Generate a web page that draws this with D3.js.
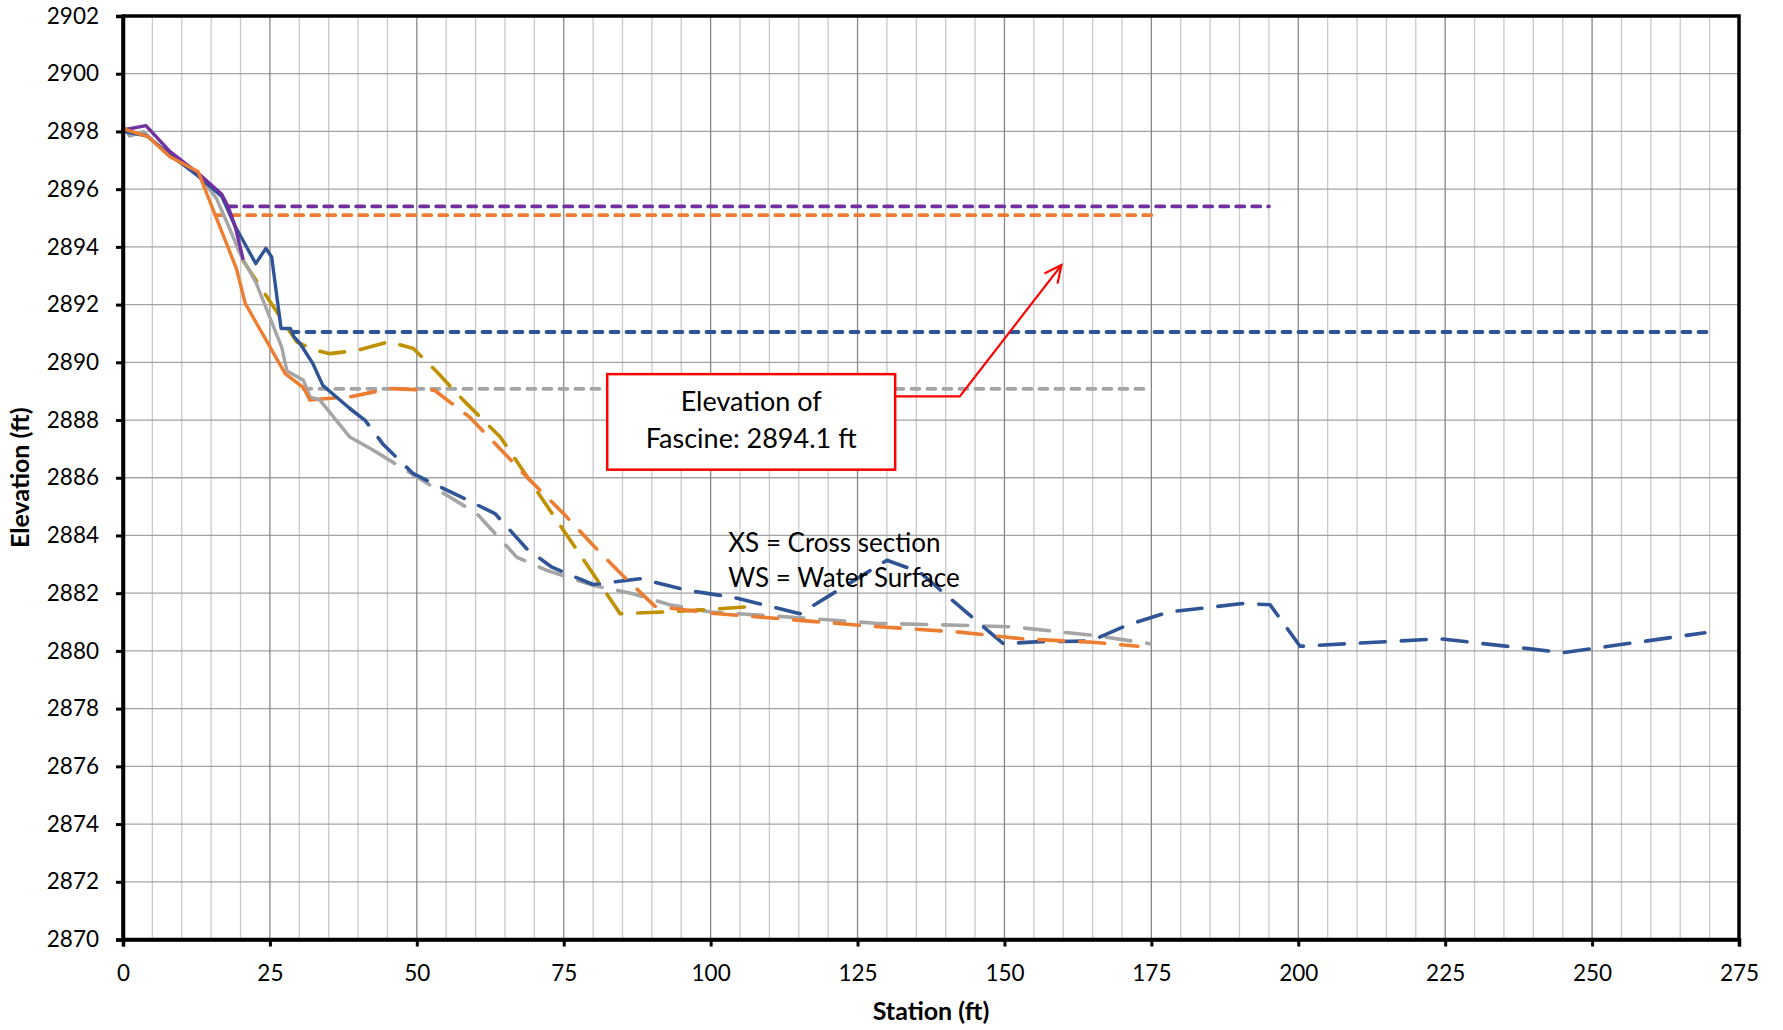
<!DOCTYPE html>
<html>
<head>
<meta charset="utf-8">
<script src="https://cdn.jsdelivr.net/npm/d3@7"></script>
<style>
  html, body { margin: 0; padding: 0; background: #fff; }
  svg { display: block; font-family: Lato, "Open Sans", sans-serif; }
</style>
</head>
<body>
<svg id="chart" width="1783" height="1030"></svg>
<script>
// ---------- data ----------
const xTicks = [0, 25, 50, 75, 100, 125, 150, 175, 200, 225, 250, 275];
const yTicks = [2870, 2872, 2874, 2876, 2878, 2880, 2882, 2884, 2886, 2888, 2890, 2892, 2894, 2896, 2898, 2900, 2902];
const xMinorTicks = d3.range(0, 276, 5);

// cross sections (station, elevation)
const purpleSolid = [[0,2898.05],[3.9,2898.2],[8,2897.3],[12.8,2896.55],[16.8,2895.82],[17.9,2895.39],[19.1,2894.7],[20.4,2893.6]];
const blueSolid = [[0,2898.0],[4,2897.85],[8,2897.2],[12.8,2896.45],[16.8,2895.75],[19.1,2894.7],[20.4,2894.23],[22.6,2893.42],[24.3,2893.95],[25.3,2893.65],[26.9,2891.17],[28.5,2891.17],[29.1,2890.88],[30.1,2890.66],[32.3,2889.96],[34.0,2889.2],[38.6,2888.4]];
const blueDashed = [[38.6,2888.4],[41.2,2887.99],[44.3,2887.15],[49.4,2886.14],[63.3,2884.76],[68.7,2883.54],[73,2882.9],[80,2882.3],[88,2882.5],[96,2882.1],[104,2881.85],[115.2,2881.29],[130,2883.14],[135.6,2882.73],[140,2881.95],[149.8,2880.25],[156,2880.32],[164.6,2880.34],[171,2880.9],[178,2881.35],[190.5,2881.64],[195.2,2881.6],[200.3,2880.16],[224.1,2880.42],[245.2,2879.94],[269.2,2880.63]];
const graySolid = [[0,2898.2],[1.1,2897.84],[3.5,2897.99],[7.4,2897.24],[12.8,2896.5],[15.9,2895.68],[17.9,2894.75],[19.9,2893.77],[22.7,2892.73],[27,2890.53],[27.9,2889.7],[30.7,2889.38],[31.8,2888.8],[33.5,2888.69],[38.6,2887.41],[42.6,2886.95]];
const grayDashed = [[42.6,2886.95],[49.1,2886.14],[55.6,2885.33],[60.2,2884.76],[67,2883.25],[72,2882.8],[80,2882.27],[86.8,2881.98],[93,2881.6],[100,2881.35],[115,2881.15],[128,2880.96],[143.6,2880.88],[151.5,2880.83],[165,2880.54],[174.8,2880.25]];
const orangeSolid = [[0,2898.1],[4.3,2897.81],[8,2897.12],[12.8,2896.6],[15.7,2895.1],[19.3,2893.25],[20.8,2892.04],[27.6,2889.61],[30.7,2889.12],[31.8,2888.7]];
const orangeDashed = [[31.8,2888.7],[38.6,2888.8],[45.4,2889.09],[53,2889.03],[59,2888.1],[64.2,2887.0],[68.7,2886.03],[75,2884.75],[80,2883.66],[85,2882.62],[90.5,2881.55],[100,2881.31],[127.7,2880.85],[142.4,2880.65],[153,2880.42],[165,2880.3],[172.7,2880.16]];
const goldDashed = [[20.4,2893.54],[23.2,2892.67],[27.3,2891.4],[29.6,2890.7],[32.7,2890.42],[35.2,2890.3],[40,2890.42],[45.2,2890.71],[49.4,2890.48],[53.4,2889.67],[57.9,2888.69],[64.2,2887.41],[84.6,2881.29],[92,2881.35],[99.6,2881.43],[107,2881.54]];

// water surfaces (start station, end station, elevation)
const wsPurple = [[17.9,2895.4],[195,2895.4]];
const wsOrange = [[15.7,2895.1],[175,2895.1]];
const wsBlue   = [[28.5,2891.05],[270,2891.05]];
const wsGray   = [[30.7,2889.08],[174.3,2889.08]];

// annotations (data units)
const fascineLines = ["Elevation of", "Fascine: 2894.1 ft"];
const fascineBox = {x0: 82.4, x1: 131.4, y0: 2889.59, y1: 2886.28};
const fascineArrow = [[131.4,2888.82],[142.4,2888.82],[159.7,2893.37]];
const noteLines = ["XS = Cross section", "WS = Water Surface"];
const noteAnchor = [103.0, 2883.43];

// ---------- layout ----------
const svg = d3.select("#chart");
const L = 123, R = 1739, T = 16, B = 939.5;
const x = d3.scaleLinear().domain([0, 275]).range([L, R]);
const y = d3.scaleLinear().domain([2870, 2902]).range([B, T]);

const C = {purple: "#7030A0", orange: "#ED7D31", blue: "#2F5597", gray: "#A5A5A5", gold: "#BF9000"};

// gridlines
const grid = svg.append("g");
grid.selectAll(".minor").data(xMinorTicks.filter(d => d % 25 !== 0)).join("line")
  .attr("x1", d => x(d)).attr("x2", d => x(d)).attr("y1", T).attr("y2", B)
  .attr("stroke", "#c9c9c9").attr("stroke-width", 1.3);
grid.selectAll(".hgrid").data(yTicks).join("line")
  .attr("x1", L).attr("x2", R).attr("y1", d => y(d)).attr("y2", d => y(d))
  .attr("stroke", "#a3a3a3").attr("stroke-width", 1.3);
grid.selectAll(".major").data(xTicks).join("line")
  .attr("x1", d => x(d)).attr("x2", d => x(d)).attr("y1", T).attr("y2", B)
  .attr("stroke", "#878787").attr("stroke-width", 1.3);

// series
const line = d3.line().x(d => x(d[0])).y(d => y(d[1]));
function draw(data, color, style) {
  const p = svg.append("path").datum(data).attr("d", line)
    .attr("fill", "none").attr("stroke", color)
    .attr("stroke-linejoin", "round");
  if (style === "solid") p.attr("stroke-width", 3.4).attr("stroke-linecap", "round");
  if (style === "long") p.attr("stroke-width", 3.6).attr("stroke-linecap", "round").attr("stroke-dasharray", "25 16");
  if (style === "ws") p.attr("stroke-width", 3.8).attr("stroke-linecap", "round").attr("stroke-dasharray", "8 8");
}
draw(wsGray, C.gray, "ws");
draw(wsBlue, C.blue, "ws");
draw(wsOrange, C.orange, "ws");
draw(wsPurple, C.purple, "ws");

draw(grayDashed, C.gray, "long");
draw(blueDashed, C.blue, "long");
draw(goldDashed, C.gold, "long");
draw(orangeDashed, C.orange, "long");

draw(graySolid, C.gray, "solid");
draw(blueSolid, C.blue, "solid");
draw(purpleSolid, C.purple, "solid");
draw(orangeSolid, C.orange, "solid");

// frame
svg.append("rect").attr("x", L).attr("y", T).attr("width", R - L).attr("height", B - T)
  .attr("fill", "none").attr("stroke", "#000").attr("stroke-width", 3.5);

// axes
const yAxis = svg.append("g").attr("transform", `translate(${L},0)`)
  .call(d3.axisLeft(y).tickValues(yTicks).tickFormat(d3.format("d")).tickSize(7).tickPadding(17));
const xAxis = svg.append("g").attr("transform", `translate(0,${B})`)
  .call(d3.axisBottom(x).tickValues(xTicks).tickFormat(d3.format("d")).tickSize(7).tickPadding(19));
[yAxis, xAxis].forEach(a => {
  a.select(".domain").attr("stroke", "#000").attr("stroke-width", 3.5);
  a.selectAll(".tick line").attr("stroke", "#000").attr("stroke-width", 3);
  a.selectAll(".tick text").attr("fill", "#000").style("font-size", "22.5px").style("font-family", "Lato, 'Open Sans', sans-serif");
});

// axis titles
svg.append("text").attr("x", (L + R) / 2).attr("y", 1020).attr("text-anchor", "middle")
  .style("font-size", "25px").style("font-weight", "bold").text("Station (ft)");
svg.append("text").attr("transform", `translate(29,${(T + B) / 2}) rotate(-90)`).attr("text-anchor", "middle")
  .style("font-size", "25px").style("font-weight", "bold").text("Elevation (ft)");

// fascine annotation
svg.append("path").datum(fascineArrow).attr("d", line).attr("fill", "none")
  .attr("stroke", "#FF0000").attr("stroke-width", 2.2);
(function arrowHead() {
  const a = fascineArrow[fascineArrow.length - 2], b = fascineArrow[fascineArrow.length - 1];
  const x1 = x(a[0]), y1 = y(a[1]), x2 = x(b[0]), y2 = y(b[1]);
  const ang = Math.atan2(y2 - y1, x2 - x1), len = 19, spread = 0.45;
  const pts = [[x2 - len * Math.cos(ang - spread), y2 - len * Math.sin(ang - spread)], [x2, y2],
               [x2 - len * Math.cos(ang + spread), y2 - len * Math.sin(ang + spread)]];
  svg.append("path").attr("d", d3.line()(pts)).attr("fill", "none")
    .attr("stroke", "#FF0000").attr("stroke-width", 2.2);
})();
svg.append("rect").attr("x", x(fascineBox.x0)).attr("y", y(fascineBox.y0))
  .attr("width", x(fascineBox.x1) - x(fascineBox.x0)).attr("height", y(fascineBox.y1) - y(fascineBox.y0))
  .attr("fill", "#fff").attr("stroke", "#FF0000").attr("stroke-width", 2.5);
svg.append("text").attr("x", (x(fascineBox.x0) + x(fascineBox.x1)) / 2).attr("y", y(fascineBox.y0) + 37)
  .attr("text-anchor", "middle").style("font-size", "27px")
  .selectAll("tspan").data(fascineLines).join("tspan")
  .attr("x", (x(fascineBox.x0) + x(fascineBox.x1)) / 2).attr("dy", (d, i) => i ? 36.7 : 0).text(d => d);

// legend note
svg.append("text").attr("x", x(noteAnchor[0])).attr("y", y(noteAnchor[1]))
  .style("font-size", "26px")
  .selectAll("tspan").data(noteLines).join("tspan")
  .attr("x", x(noteAnchor[0])).attr("dy", (d, i) => i ? 35 : 0).text(d => d);
</script>
</body>
</html>
